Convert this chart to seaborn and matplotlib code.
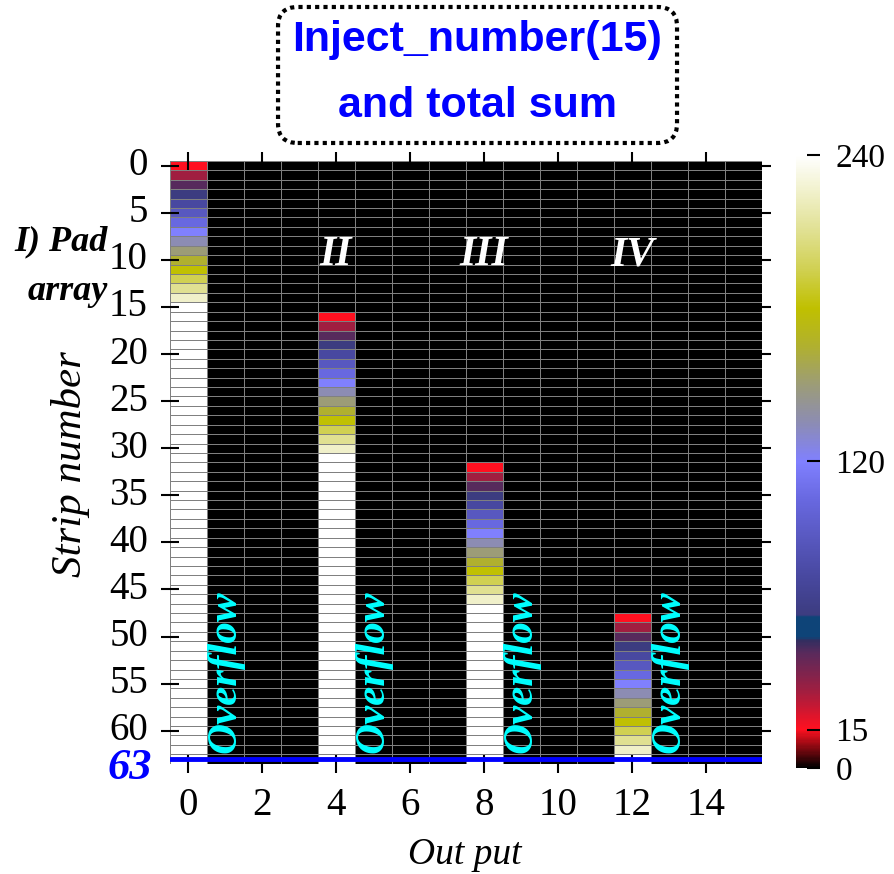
import numpy as np
import pandas as pd
import matplotlib
matplotlib.use("Agg")
import matplotlib.pyplot as plt
import seaborn as sns
from matplotlib.colors import LinearSegmentedColormap
from matplotlib.patches import FancyBboxPatch

# ---------------- data ----------------
n_rows = 64
n_cols = 16
ramp_values = [15, 30, 45, 60, 75, 90, 105, 120, 135, 150, 165, 180, 195, 210, 225]
saturation_value = 240
signal_columns = [0, 4, 8, 12]
start_rows = [0, 16, 32, 48]
section_labels = ["II", "III", "IV"]
overflow_columns = [1, 5, 9, 13]
ytick_values = [0, 5, 10, 15, 20, 25, 30, 35, 40, 45, 50, 55, 60]
xtick_values = [0, 2, 4, 6, 8, 10, 12, 14]
cbar_ticks = [0, 15, 120, 240]

data = np.zeros((n_rows, n_cols))
for col, start in zip(signal_columns, start_rows):
    data[start:start + len(ramp_values), col] = ramp_values
    data[start + len(ramp_values):, col] = saturation_value
df = pd.DataFrame(data, index=range(n_rows), columns=range(n_cols))

# ---------------- colormap ----------------
cmap_nodes = [
    (0, "#000000"), (15, "#ff1020"), (30, "#a01e40"), (45, "#582a5c"),
    (50, "#302e60"), (51, "#0e4478"), (59, "#0e4478"), (59.9, "#3c3c80"),
    (75, "#4848a0"), (90, "#5858c0"), (105, "#6868e0"), (120, "#8080ff"),
    (135, "#8c8cb4"), (150, "#9c9c78"), (165, "#b0b030"), (180, "#c0c000"),
    (195, "#d0d050"), (210, "#e0e090"), (225, "#f0f0c8"), (240, "#ffffff"),
]
cmap = LinearSegmentedColormap.from_list(
    "custom", [(v / 240.0, c) for v, c in cmap_nodes], N=512)

serif = "Liberation Serif"
sans = "Liberation Sans"

# ---------------- figure ----------------
fig = plt.figure(figsize=(8.94, 8.74), dpi=100)
ax = fig.add_axes([0.1896, 0.1262, 0.6622, 0.6896])
cax = fig.add_axes([0.8904, 0.1213, 0.0268, 0.7014])

sns.heatmap(df, ax=ax, cbar_ax=cax, cmap=cmap, vmin=0, vmax=240,
            linewidths=0.7, linecolor="#808080",
            cbar_kws={"ticks": cbar_ticks})

ax.set_xticks(np.array(xtick_values) + 0.5)
ax.set_xticklabels([str(v) for v in xtick_values], rotation=0,
                   fontsize=28, family=serif)
ax.set_yticks(np.array(ytick_values) + 0.5)
ax.set_yticklabels([str(v) for v in ytick_values], rotation=0,
                   fontsize=28, family=serif)
ax.tick_params(axis="both", which="both", direction="inout", length=13,
               width=1.5, top=True, right=True, labeltop=False,
               labelright=False, color="black")
ax.tick_params(axis="y", pad=9)
ax.tick_params(axis="x", pad=10)

ax.set_xlabel("Out put", fontsize=27, style="italic", family=serif)
ax.set_ylabel("Strip number", fontsize=31, style="italic", family=serif)
ax.xaxis.set_label_coords(0.499, -0.1515)
ax.xaxis.label.set_va("center")
ax.yaxis.set_label_coords(-0.1664, 0.497)
ax.yaxis.label.set_va("center")

# blue line at row 63
ax.axhline(63.5, color="#0000ff", lw=3.5, zorder=5)

# section labels
for col, lab in zip(signal_columns[1:], section_labels):
    ax.text(col + 0.5, 10.0, lab, color="white", fontsize=30,
            fontweight="bold", style="italic", family=serif,
            ha="center", va="center")

# overflow labels
for col in overflow_columns:
    ax.text(col + 0.5, 62.9, "Overflow", color="#00ffff", fontsize=31,
            fontweight="bold", style="italic", family=serif,
            rotation=90, ha="center", va="bottom", zorder=6)

fig.text(0.1208, 0.714, "I) Pad", fontsize=26, fontweight="bold",
         style="italic", family=serif, ha="right", va="baseline")
fig.text(0.1208, 0.6568, "array", fontsize=26, fontweight="bold",
         style="italic", family=serif, ha="right", va="baseline")

fig.text(0.170, 0.1213, "63", fontsize=32, fontweight="bold",
         style="italic", family=serif, color="#0000ff",
         ha="right", va="center")

# colorbar styling
cbar = ax.collections[0].colorbar
cbar.outline.set_visible(False)
cax.tick_params(direction="in", length=9.5, width=1.5, color="black",
                labelsize=24, pad=11)
for t in cax.get_yticklabels():
    t.set_family(serif)

# title box
box = FancyBboxPatch((0.311, 0.8364), 0.4463, 0.1556,
                     boxstyle="round,pad=0,rounding_size=0.022",
                     transform=fig.transFigure, facecolor="white",
                     edgecolor="black", linewidth=3,
                     linestyle=(0, (1, 1)))
fig.patches.append(box)
fig.text(0.5336, 0.9545, "Inject_number(15)", fontsize=31,
         fontweight="bold", family=sans, color="#0000ff",
         ha="center", va="center")
fig.text(0.5336, 0.8785, "and total sum", fontsize=31,
         fontweight="bold", family=sans, color="#0000ff",
         ha="center", va="center")

fig.savefig("out.png", dpi=100)
